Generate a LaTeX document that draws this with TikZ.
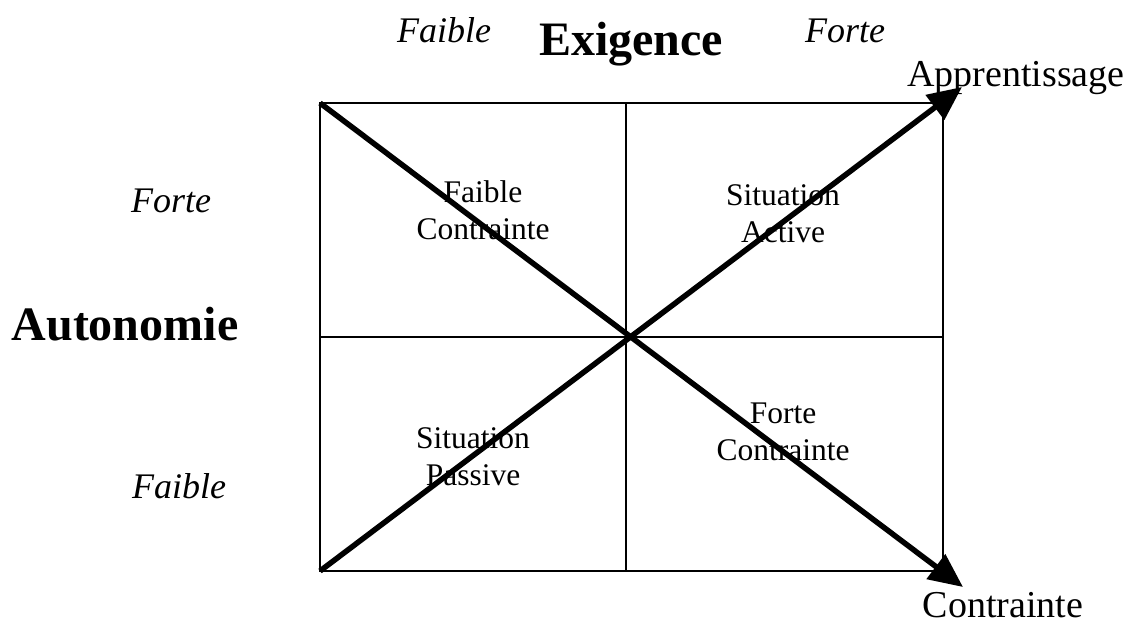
\documentclass[tikz,border=0pt]{standalone}
\usepackage{fontspec}
\setmainfont{Liberation Serif}
\usetikzlibrary{arrows.meta}
\begin{document}
\begin{tikzpicture}[x=1pt,y=-1pt,
  grid/.style={line width=1.3pt},
  axisline/.style={line width=5.5pt,-{Triangle[length=34pt,width=30pt]}},
  title/.style={font=\fontsize{48}{55}\selectfont\bfseries,anchor=base,inner sep=0pt},
  level/.style={font=\fontsize{36}{42}\selectfont\itshape,anchor=base,inner sep=0pt},
  endlabel/.style={font=\fontsize{38}{44}\selectfont,anchor=base,inner sep=0pt},
  cell/.style={font=\fontsize{31.5}{37}\selectfont,align=center,inner sep=0pt}]
\useasboundingbox (0,0) rectangle (1138,625);

% corners of the grid and arrow tips
\coordinate (tl) at (320,103);
\coordinate (br) at (943,571);
\coordinate (bl) at (320,571);
\coordinate (tr) at (943,103);
\coordinate (tipdown) at (963,587);
\coordinate (tipup) at (962,87);

% axis titles and levels
\node[title] (exig) at (631,55) {Exigence};
\node[title] (auto) at (125,340) {Autonomie};
\node[level] (efaible) at (444,42) {Faible};
\node[level] (eforte) at (845,42) {Forte};
\node[level] (aforte) at (171,212) {Forte};
\node[level] (afaible) at (179,498) {Faible};

% arrow labels
\node[endlabel] (appr) at (1016,86) {Apprentissage};
\node[endlabel] (contr) at (1003,617) {Contrainte};

% quadrant labels
\node[cell] (q1) at (483,210) {Faible\\Contrainte};
\node[cell] (q2) at (783,214) {Situation\\Active};
\node[cell] (q3) at (473,457) {Situation\\Passive};
\node[cell] (q4) at (783,432) {Forte\\Contrainte};

% grid
\draw[grid] (tl) rectangle (br);
\draw[grid] (626,103) -- (626,571);
\draw[grid] (320,337) -- (943,337);

% diagonals
\draw[axisline] (tl) -- (tipdown);
\draw[axisline] (bl) -- (tipup);
\end{tikzpicture}
\end{document}
